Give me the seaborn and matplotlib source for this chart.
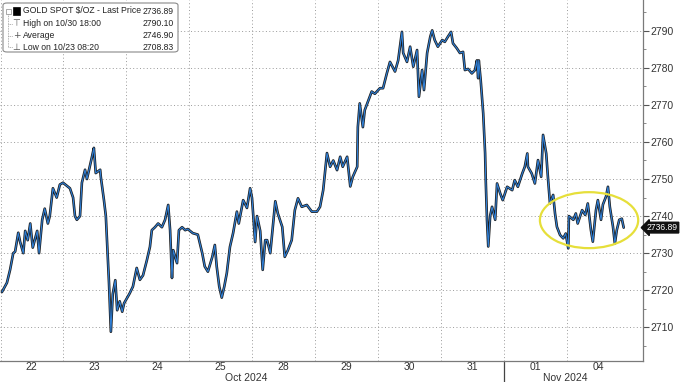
import numpy as np
import pandas as pd
import seaborn as sns
import matplotlib
matplotlib.use("Agg")
import matplotlib.pyplot as plt
from matplotlib.patches import Ellipse, FancyBboxPatch
from matplotlib.lines import Line2D
import matplotlib.transforms as mtransforms

# ---- data: time in trading days since Oct 22 00:00, price in $/oz ----
t = [0.03, 0.11, 0.16, 0.21, 0.24, 0.29, 0.32, 0.37, 0.40, 0.44, 0.48, 0.52, 0.59, 0.62, 0.67, 0.71, 0.76, 0.79,
     0.84, 0.90, 0.95, 1.00, 1.11, 1.16, 1.19, 1.22, 1.27, 1.30, 1.35, 1.38, 1.46, 1.49, 1.52, 1.59, 1.60, 1.65,
     1.68, 1.70, 1.73, 1.76, 1.79, 1.83, 1.86, 1.90, 1.94, 1.97, 2.03, 2.06, 2.11, 2.17, 2.22, 2.27, 2.33, 2.38,
     2.41, 2.46, 2.51, 2.57, 2.62, 2.67, 2.70, 2.73, 2.75, 2.81, 2.84, 2.89, 2.94, 2.98, 3.06, 3.14, 3.21, 3.25,
     3.30, 3.37, 3.41, 3.44, 3.48, 3.52, 3.56, 3.60, 3.65, 3.70, 3.76, 3.79, 3.86, 3.92, 3.97, 4.00, 4.05, 4.08,
     4.13, 4.17, 4.21, 4.24, 4.29, 4.37, 4.41, 4.48, 4.52, 4.57, 4.63, 4.68, 4.73, 4.79, 4.87, 4.95, 5.03, 5.08,
     5.13, 5.19, 5.24, 5.29, 5.35, 5.40, 5.44, 5.51, 5.56, 5.60, 5.67, 5.68, 5.71, 5.76, 5.79, 5.84, 5.90, 5.95,
     6.03, 6.08, 6.14, 6.19, 6.27, 6.32, 6.38, 6.40, 6.46, 6.51, 6.56, 6.62, 6.65, 6.70, 6.73, 6.78, 6.83, 6.86,
     6.90, 6.95, 7.02, 7.06, 7.11, 7.16, 7.19, 7.25, 7.30, 7.35, 7.38, 7.43, 7.49, 7.54, 7.57, 7.59, 7.60, 7.63,
     7.67, 7.70, 7.71, 7.73, 7.75, 7.78, 7.81, 7.86, 7.89, 7.94, 7.98, 8.05, 8.13, 8.17, 8.22, 8.29, 8.33, 8.37,
     8.38, 8.44, 8.49, 8.54, 8.59, 8.62, 8.67, 8.70, 8.73, 8.78, 8.81, 8.84, 8.89, 8.94, 8.98, 9.02, 9.03, 9.10,
     9.14, 9.17, 9.24, 9.29, 9.33, 9.38, 9.41, 9.46, 9.49, 9.54, 9.57, 9.62, 9.65, 9.68, 9.73, 9.76, 9.79, 9.83,
     9.87, 9.90]
price = [2719.5, 2722.0, 2725.5, 2730.0, 2730.4, 2735.5, 2733.0, 2730.0, 2736.0, 2733.5, 2738.0, 2731.5, 2736.0,
         2730.0, 2739.0, 2742.0, 2738.0, 2740.0, 2747.5, 2745.0, 2748.5, 2749.0, 2747.5, 2745.0, 2740.0, 2739.0,
         2740.0, 2749.0, 2752.5, 2750.0, 2756.0, 2758.4, 2751.6, 2752.5, 2750.6, 2744.3, 2740.0, 2732.7, 2722.0,
         2708.8, 2719.0, 2722.7, 2714.6, 2717.0, 2714.2, 2716.5, 2718.3, 2719.2, 2721.0, 2726.0, 2722.8, 2724.0,
         2728.0, 2731.7, 2736.2, 2737.0, 2738.0, 2737.0, 2739.0, 2743.0, 2736.2, 2723.3, 2730.8, 2727.3, 2736.2,
         2737.0, 2736.2, 2736.5, 2735.4, 2735.0, 2730.0, 2726.4, 2725.0, 2729.0, 2732.2, 2726.4, 2721.0, 2718.0,
         2721.0, 2724.6, 2731.7, 2735.4, 2741.2, 2738.0, 2744.3, 2742.2, 2747.5, 2744.9, 2733.0, 2740.0, 2736.0,
         2725.5, 2733.5, 2733.5, 2730.0, 2744.0, 2740.7, 2737.1, 2729.0, 2730.8, 2733.5, 2741.6, 2744.8, 2742.5,
         2743.0, 2741.2, 2741.2, 2742.5, 2747.0, 2757.0, 2753.3, 2755.0, 2752.4, 2756.0, 2753.3, 2756.0, 2748.0,
         2750.6, 2753.3, 2764.0, 2770.4, 2764.0, 2768.6, 2770.9, 2773.6, 2773.0, 2774.5, 2774.5, 2778.5, 2781.6,
         2779.0, 2782.0, 2789.7, 2784.0, 2781.6, 2785.7, 2780.3, 2784.8, 2772.2, 2779.4, 2774.0, 2784.0, 2788.4,
         2790.1, 2787.5, 2785.7, 2787.5, 2787.0, 2788.4, 2789.7, 2786.6, 2785.3, 2784.0, 2784.3, 2779.4, 2779.7,
         2778.5, 2779.4, 2782.0, 2777.2, 2782.0, 2776.7, 2767.7, 2757.0, 2749.8, 2739.0, 2731.8, 2740.0, 2742.5,
         2739.0, 2748.8, 2746.1, 2744.3, 2747.9, 2747.0, 2749.7, 2747.9, 2751.5, 2753.3, 2756.9, 2753.3, 2751.5,
         2748.8, 2755.1, 2750.6, 2761.9, 2756.9, 2749.8, 2743.4, 2745.7, 2740.7, 2737.1, 2734.9, 2734.0, 2735.3,
         2731.3, 2740.0, 2739.0, 2740.7, 2738.0, 2741.6, 2740.3, 2743.4, 2736.2, 2733.1, 2741.6, 2744.3, 2739.0,
         2743.1, 2745.3, 2747.9, 2742.5, 2737.1, 2732.6, 2736.2, 2739.0, 2739.3, 2736.89]

day_labels = ["22", "23", "24", "25", "28", "29", "30", "31", "01", "04"]
month_labels = ["Oct 2024", "Nov 2024"]
month_start_day = [0, 8]
y_ticks = [2710, 2720, 2730, 2740, 2750, 2760, 2770, 2780, 2790]

legend_rows = ["GOLD SPOT $/OZ - Last Price", "High on 10/30 18:00", "Average", "Low on 10/23 08:20"]
legend_vals = ["2736.89", "2790.10", "2746.90", "2708.83"]
last_price = 2736.89

df = pd.DataFrame({"t": t, "price": price})

sns.set_theme(style="white")
plt.rcParams["font.family"] = ["Liberation Sans", "DejaVu Sans"]

fig = plt.figure(figsize=(6.8, 3.82), dpi=100)
ax = fig.add_axes([0.0, 1 - 361 / 382, 643 / 680, 361 / 382])

sns.lineplot(data=df, x="t", y="price", ax=ax, color="#1c1c1c", lw=1.9, zorder=3)
sns.lineplot(data=df, x="t", y="price", ax=ax, color="#2f7fd6", lw=0.8, zorder=4)

ax.set_xlim(0, 643 / 63)
ax.set_ylim(2700.9, 2798.3)
ax.set_xlabel("")
ax.set_ylabel("")

# grid
dot = (0, (1, 2.5))
for yv in y_ticks:
    ax.axhline(yv, color="#9a9a9a", lw=0.7, ls=dot, zorder=1)
for d in range(1, len(day_labels)):
    ax.axvline(d, color="#9a9a9a", lw=0.7, ls=dot, zorder=1)
ax.axvline(0.02, color="#9a9a9a", lw=0.7, ls=dot, zorder=1)

# spines
for s in ["left", "top"]:
    ax.spines[s].set_visible(False)
for s in ["right", "bottom"]:
    ax.spines[s].set_color("#7a7a7a")
    ax.spines[s].set_linewidth(0.9)

# y ticks on right
ax.yaxis.tick_right()
ax.set_yticks(y_ticks)
ax.set_yticklabels([str(v) for v in y_ticks])
ax.set_yticks(np.arange(2705, 2800, 10), minor=True)
ax.tick_params(axis="y", which="major", direction="out", length=4, width=0.8, color="#555555",
               labelsize=7.5, labelcolor="#333333", pad=1, right=True, left=False)
ax.tick_params(axis="y", which="minor", direction="out", length=2, width=0.6, color="#777777", right=True, left=False)

# x labels
ax.set_xticks([])
trans = mtransforms.blended_transform_factory(ax.transData, ax.transAxes)
for i, lab in enumerate(day_labels):
    ax.text(i + 0.5, -0.016, lab, transform=trans, ha="center", va="center", fontsize=7.5, color="#333333")
ax.text(3.9, -0.046, month_labels[0], transform=trans, ha="center", va="center", fontsize=7.5, color="#333333")
ax.text(8.97, -0.046, month_labels[1], transform=trans, ha="center", va="center", fontsize=7.5, color="#333333")
ax.add_line(Line2D([month_start_day[1], month_start_day[1]], [0.0, -0.07], transform=trans,
                   color="#444444", lw=0.9, clip_on=False))

# yellow ellipse highlight
ell = Ellipse((9.35, 2738.9), width=1.56, height=15.1, fill=False, edgecolor="#e6df3a", lw=1.6, zorder=5)
ax.add_patch(ell)

# last price tag
transy = mtransforms.blended_transform_factory(ax.transAxes, ax.transData)
ax.text(1.006, last_price, f"{last_price:.2f}", transform=transy, ha="left", va="center", fontsize=6.2,
        color="white", bbox=dict(boxstyle="larrow,pad=0.1", fc="#111111", ec="#111111"), zorder=6,
        clip_on=False)

# legend box
W, H = 680, 382
box = FancyBboxPatch((3 / W, 1 - 52 / H), 175 / W, 49 / H, boxstyle="round,pad=0,rounding_size=0.006",
                     transform=fig.transFigure, fc="white", ec="#8a8a8a", lw=0.8, zorder=10)
fig.add_artist(box)
rows_y = [11, 24, 36, 47]
# tree connectors
fig.add_artist(Line2D([8 / W, 8 / W], [1 - 14 / H, 1 - 47 / H], transform=fig.transFigure,
                      color="#999999", lw=0.6, ls=(0, (1, 1)), zorder=11))
for ry in rows_y[1:]:
    fig.add_artist(Line2D([8 / W, 13 / W], [1 - ry / H, 1 - ry / H], transform=fig.transFigure,
                          color="#999999", lw=0.6, ls=(0, (1, 1)), zorder=11))
fig.add_artist(FancyBboxPatch((5.5 / W, 1 - 13.5 / H), 5 / W, 5 / H, boxstyle="square,pad=0",
                              transform=fig.transFigure, fc="white", ec="#888888", lw=0.5, zorder=11))
fig.add_artist(FancyBboxPatch((13 / W, 1 - 15 / H), 7 / W, 8 / H, boxstyle="square,pad=0",
                              transform=fig.transFigure, fc="black", ec="black", lw=0.5, zorder=11))
symbols = [None, "\u22a4", "+", "\u22a5"]
for ry, lab, val, sym in zip(rows_y, legend_rows, legend_vals, symbols):
    yy = 1 - ry / H
    if sym:
        fig.text(16.5 / W, yy, sym, ha="center", va="center", fontsize=6.5, color="#555555",
                 family=["DejaVu Sans"], zorder=12)
    fig.text(23 / W, yy, lab, ha="left", va="center", fontsize=6.2, color="#222222", zorder=12)
    fig.text(174 / W, yy, val, ha="right", va="center", fontsize=6.2, color="#222222", zorder=12)

fig.savefig("out.png", dpi=100)
